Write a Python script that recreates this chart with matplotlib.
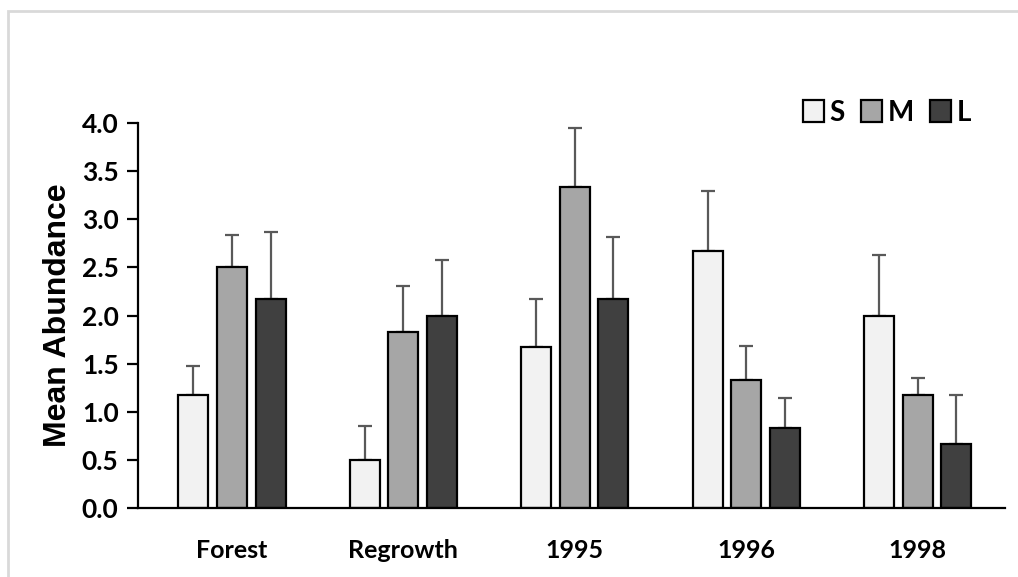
import numpy as np
import matplotlib.pyplot as plt
from matplotlib.patches import Rectangle

categories = ["Forest", "Regrowth", "1995", "1996", "1998"]
series = ["S", "M", "L"]
s_means = [1.17, 0.50, 1.67, 2.67, 2.00]
m_means = [2.50, 1.83, 3.33, 1.33, 1.17]
l_means = [2.17, 2.00, 2.17, 0.83, 0.67]
s_err = [0.31, 0.35, 0.50, 0.62, 0.63]
m_err = [0.34, 0.48, 0.62, 0.35, 0.18]
l_err = [0.70, 0.58, 0.65, 0.31, 0.50]
y_ticks = [0.0, 0.5, 1.0, 1.5, 2.0, 2.5, 3.0, 3.5, 4.0]

colors = ["#f2f2f2", "#a6a6a6", "#404040"]
tick_font = ["Lato", "DejaVu Sans"]


def main() -> None:
    fig = plt.figure(figsize=(10.18, 5.77), dpi=100)
    ax = fig.add_axes([0.1356, 0.1196, 0.8514, 0.6672])

    # light gray frame like the exported chart area
    fig.add_artist(Rectangle((8 / 1018, -0.1), 1.2, 1 - 11 / 577 + 0.1,
                             transform=fig.transFigure, fill=False,
                             edgecolor="#d9d9d9", linewidth=2))

    x = np.arange(len(categories))
    width = 0.175
    step = 0.225
    means = [s_means, m_means, l_means]
    errs = [s_err, m_err, l_err]
    for k, name in enumerate(series):
        pos = x + (k - 1) * step + 0.04
        ax.bar(pos, means[k], width, color=colors[k], edgecolor="black",
               linewidth=1.6, label=name, zorder=2)
        ax.errorbar(pos, means[k], yerr=[np.zeros(len(x)), errs[k]], fmt="none",
                    ecolor="#595959", elinewidth=1.6, capsize=5, capthick=1.6,
                    zorder=1)

    ax.set_xlim(-0.508, 4.548)
    ax.set_ylim(0, 4.0)
    ax.set_yticks(y_ticks)
    ax.set_yticklabels([f"{t:.1f}" for t in y_ticks], fontsize=19,
                       fontweight="bold", family=tick_font)
    ax.set_xticks(x + 0.04)
    ax.set_xticklabels(categories, fontsize=18, fontweight="bold", family=tick_font)
    ax.tick_params(axis="x", length=0, pad=22)
    ax.tick_params(axis="y", length=8, width=1.6, direction="out", pad=6)
    for side in ["top", "right"]:
        ax.spines[side].set_visible(False)
    ax.spines["left"].set_linewidth(1.6)
    ax.spines["bottom"].set_linewidth(1.6)

    ax.set_ylabel("Mean Abundance", fontsize=23, fontweight="bold",
                  family=["Liberation Sans", "DejaVu Sans"], labelpad=6)

    ax.legend(loc="upper right", bbox_to_anchor=(0.99, 1.126), ncol=3, frameon=False,
              prop={"family": tick_font, "weight": "bold", "size": 20},
              handlelength=0.75, handleheight=0.85, handletextpad=0.2,
              columnspacing=0.6)

    fig.savefig("out.png", dpi=100)
    plt.close(fig)


if __name__ == "__main__":
    main()
